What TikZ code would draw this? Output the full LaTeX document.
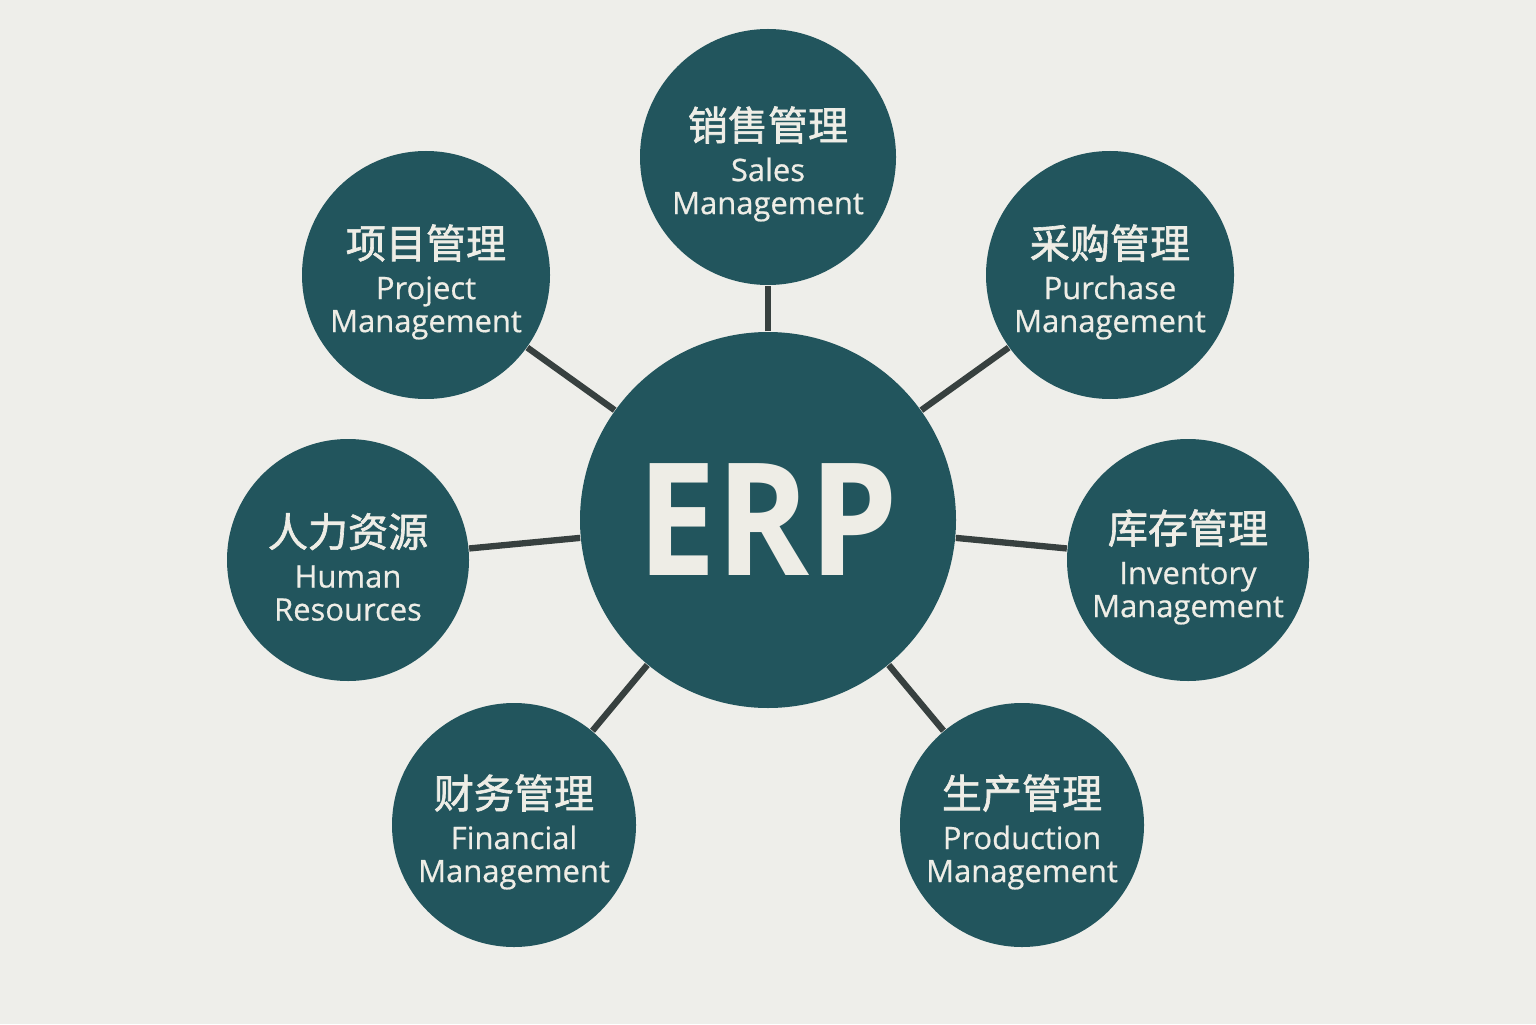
\documentclass[tikz,border=0pt]{standalone}
\usepackage{fontspec}
\setmainfont{Open Sans}
\newfontfamily\cjk{Noto Sans CJK SC}[FakeBold=1.6]
\newfontfamily\labelfont{Open Sans}[FakeBold=0.6]
\usepackage{tikz}
\usetikzlibrary{positioning}
\definecolor{bgcol}{HTML}{EEEEEA}
\definecolor{tealcol}{HTML}{22555D}
\definecolor{textcol}{HTML}{EEEDE6}
\definecolor{linkcol}{HTML}{37403F}
\newcommand{\modlabel}[2]{{\cjk\fontsize{11.4}{12}\selectfont #1}\\[2.2pt]#2}
\tikzset{
	module/.style 2 args = {circle, fill=tealcol, inner sep=0pt, minimum size=#1,
		label={[modtext]center:#2}},
	modtext/.style = {text=textcol, align=center, yshift=-0.07cm,
		font=\labelfont\fontsize{8.8}{9.4}\selectfont},
	core/.style = {circle, fill=tealcol, text=textcol, minimum size=3.76cm,
		font=\bfseries\fontsize{44.6}{44.6}\selectfont},
	link/.style = {draw=linkcol, line width=1.8pt}
}
\begin{document}
\begin{tikzpicture}
	\useasboundingbox (0,0) rectangle (15.36,10.24);
	\fill[bgcol] (0,0) rectangle (15.36,10.24);

	% centre
	\node[core] (erp) at (7.68,5.04) {\scalebox{0.9}[1]{ERP}};

	% modules
	\node[module={2.56cm}{\modlabel{销售管理}{Sales\\Management}}] (sales) at (7.68,8.67) {};
	\node[module={2.48cm}{\modlabel{项目管理}{Project\\Management}}] (project) at (4.26,7.49) {};
	\node[module={2.48cm}{\modlabel{采购管理}{Purchase\\Management}}] (purchase) at (11.10,7.49) {};
	\node[module={2.42cm}{\modlabel{人力资源}{Human\\Resources}}] (hr) at (3.48,4.64) {};
	\node[module={2.42cm}{\modlabel{库存管理}{Inventory\\Management}}] (inventory) at (11.88,4.64) {};
	\node[module={2.44cm}{\modlabel{财务管理}{Financial\\Management}}] (finance) at (5.14,1.99) {};
	\node[module={2.44cm}{\modlabel{生产管理}{Production\\Management}}] (production) at (10.22,1.99) {};

	\foreach \m in {sales, project, purchase, hr, inventory, finance, production}
		\draw[link] (erp) -- (\m);
\end{tikzpicture}
\end{document}
